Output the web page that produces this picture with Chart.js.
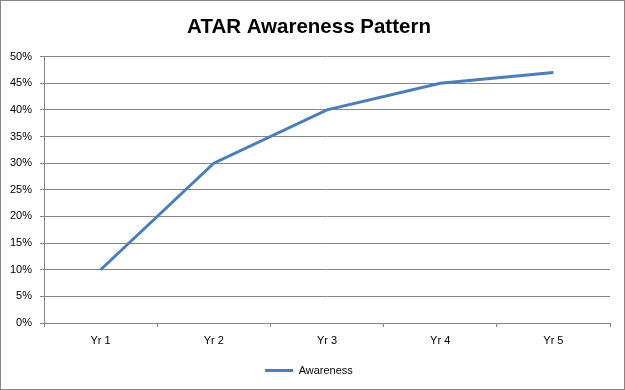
<!DOCTYPE html>
<html>
<head>
<meta charset="utf-8">
<script src="https://cdn.jsdelivr.net/npm/chart.js@4"></script>
<style>
body{margin:0;background:#fff;}
#wrap{width:625px;height:390px;position:relative;}
</style>
</head>
<body>
<div id="wrap"><canvas id="atarChart" width="625" height="390"></canvas></div>
<script>
let years = ['Yr 1','Yr 2','Yr 3','Yr 4','Yr 5'];
let awareness = [10,30,40,45,47];
let yTicks = [0,5,10,15,20,25,30,35,40,45,50];

let gridGray = '#868686';

/* outer frame like the excel chart border */
let framePlugin = {
id:'frame',
beforeDraw(chart){
let c = chart.ctx;
c.save();
c.fillStyle = '#fff';
c.fillRect(0,0,chart.width,chart.height);
c.strokeStyle = gridGray;
c.lineWidth = 1;
c.strokeRect(0.5,0.5,chart.width-1,chart.height-1);
c.restore();
}
};

let ctx = document.getElementById('atarChart').getContext('2d');

new Chart(ctx,{
type:'line',
data:{
labels:years,
datasets:[{
label:'Awareness',
data:awareness,
borderColor:'#4A7EBB',
backgroundColor:'#4A7EBB',
borderWidth:3,
pointRadius:0,
tension:0,
fill:false
}]
},
options:{
responsive:false,
animation:false,
layout:{padding:{left:8,right:15,top:0,bottom:4}},
plugins:{
title:{
display:true,
text:'ATAR Awareness Pattern',
color:'#000',
font:{family:'Liberation Sans',size:20.5,weight:'bold'},
padding:{top:15,bottom:17}
},
legend:{
display:true,
position:'bottom',
labels:{
usePointStyle:true,
pointStyle:'line',
pointStyleWidth:28,
color:'#000',
font:{family:'Liberation Sans',size:11},
padding:8
}
},
tooltip:{enabled:false}
},
scales:{
x:{
offset:true,
grid:{
offset:true,
drawOnChartArea:false,
drawTicks:true,
tickLength:4,
color:gridGray
},
border:{display:true,color:gridGray},
ticks:{
color:'#000',
padding:7,
font:{family:'Liberation Sans',size:11}
},
afterFit(scale){ scale.height = 34; }
},
y:{
min:0,
max:50,
afterBuildTicks(scale){
scale.ticks = yTicks.map(v => ({value:v}));
},
grid:{
color:gridGray,
tickLength:4
},
border:{display:true,color:gridGray},
ticks:{
color:'#000',
padding:8,
font:{family:'Liberation Sans',size:11},
callback:(v) => v + '%'
},
afterFit(scale){ scale.width = 36; }
}
}
},
plugins:[framePlugin]
});
</script>
</body>
</html>
